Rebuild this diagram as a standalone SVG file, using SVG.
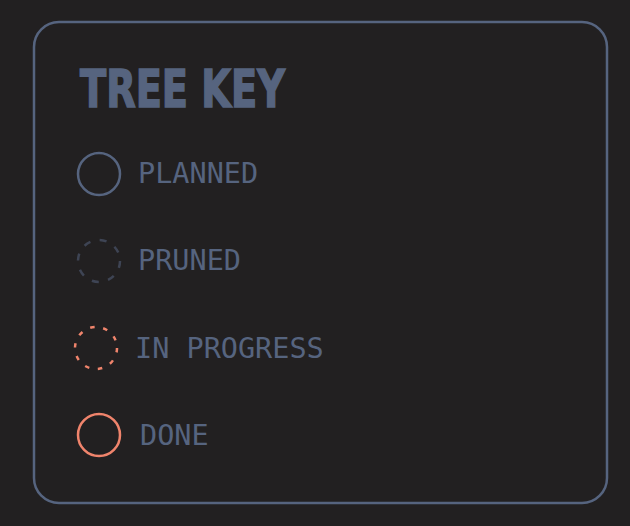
<svg xmlns="http://www.w3.org/2000/svg" width="630" height="526" viewBox="0 0 630 526">
<style>
.lbl{font-family:"DejaVu Sans Mono","Liberation Mono",monospace;font-size:28.5px;fill:#56647f}
.ring{fill:none;stroke-width:2.5}
</style>
<rect width="630" height="526" fill="#222021"/>
<g id="panel">
<rect x="34" y="22" width="573" height="481" rx="25" fill="none" stroke="#56647f" stroke-width="2.5"/>
<text x="80" y="107" font-family="'Liberation Sans Narrow','DejaVu Sans Condensed',sans-serif" font-weight="bold" font-size="52" fill="#56647f" stroke="#56647f" stroke-width="1.5" textLength="205" lengthAdjust="spacingAndGlyphs">TREE KEY</text>
</g>
<g id="planned">
<circle class="ring" cx="99" cy="174" r="21" stroke="#56647f"/>
<text class="lbl" x="138" y="183">PLANNED</text>
</g>
<g id="pruned">
<circle class="ring" cx="99" cy="261" r="21" stroke="#3e4454" stroke-dasharray="7 9.5"/>
<text class="lbl" x="138" y="270">PRUNED</text>
</g>
<g id="in-progress">
<circle class="ring" cx="96" cy="348" r="21" stroke="#f0846c" stroke-dasharray="4.5 8.7" stroke-width="3"/>
<text class="lbl" x="135" y="358">IN PROGRESS</text>
</g>
<g id="done">
<circle class="ring" cx="99" cy="435" r="21" stroke="#f0846c"/>
<text class="lbl" x="140" y="445">DONE</text>
</g>
<g id="connectors"/>
</svg>
